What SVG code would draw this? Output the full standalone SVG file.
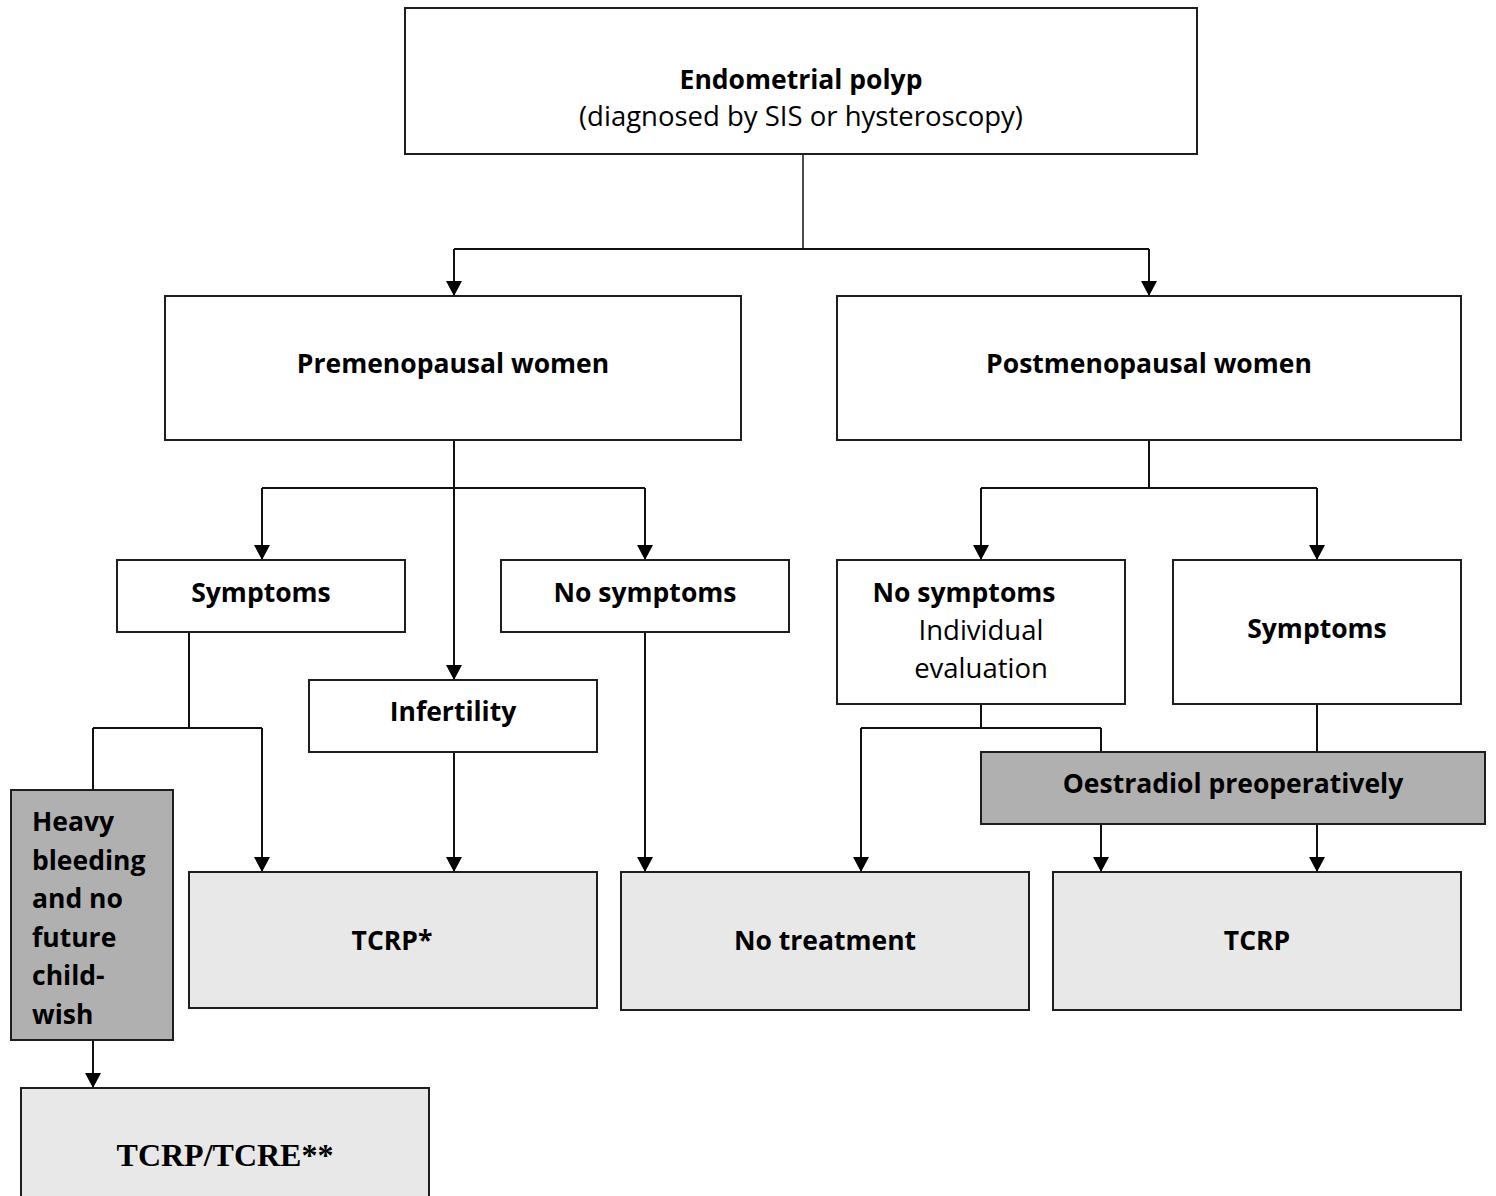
<svg xmlns="http://www.w3.org/2000/svg" width="1496" height="1196" viewBox="0 0 1496 1196">
<style>
.box{fill:#ffffff;stroke:#1e1e1e;stroke-width:2}
.light{fill:#e8e8e8;stroke:#1e1e1e;stroke-width:2}
.dark{fill:#b0b0b0;stroke:#1e1e1e;stroke-width:2}
.t{font-family:"Open Sans","Noto Sans",sans-serif;font-size:27.5px;fill:#000;text-anchor:middle}
.b{font-weight:bold;font-size:26.5px}
.l{text-anchor:start}
.serif{font-family:"Liberation Serif","Times New Roman",serif;font-size:32px;font-weight:bold;fill:#000;text-anchor:middle}
.c{fill:none;stroke:#111;stroke-width:2}
.a{marker-end:url(#arrow)}
</style>
<defs>
<marker id="arrow" markerUnits="userSpaceOnUse" markerWidth="15" markerHeight="16" refX="15" refY="8" orient="auto">
<path d="M0,0 L15,8 L0,16 z" fill="#000"/>
</marker>
</defs>
<rect width="1496" height="1196" fill="#ffffff"/>
<g id="connectors">
<path class="c" style="stroke-width:1.5" d="M803,154 V249"/>
<path class="c" d="M454,249 H1149"/>
<path class="c a" d="M454,249 V296"/>
<path class="c a" d="M1149,249 V296"/>
<path class="c" d="M454,440 V488 M262,488 H645"/>
<path class="c a" d="M262,488 V560"/>
<path class="c a" d="M645,488 V560"/>
<path class="c a" d="M454,488 V680"/>
<path class="c" d="M189,632 V728 M93,728 H262 M93,728 V790"/>
<path class="c a" d="M262,728 V872"/>
<path class="c a" d="M454,752 V872"/>
<path class="c a" d="M645,632 V872"/>
<path class="c a" d="M93,1040 V1088"/>
<path class="c" d="M1149,440 V488 M981,488 H1317"/>
<path class="c a" d="M981,488 V560"/>
<path class="c a" d="M1317,488 V560"/>
<path class="c" d="M981,704 V728 M861,728 H1101 M1101,728 V752"/>
<path class="c a" d="M861,728 V872"/>
<path class="c" d="M1317,704 V752"/>
<path class="c a" d="M1101,824 V872"/>
<path class="c a" d="M1317,824 V872"/>
</g>
<g id="n-polyp">
<rect class="box" x="405" y="8" width="792" height="146"/>
<text class="t b" x="801" y="89">Endometrial polyp</text>
<text class="t" x="801" y="126">(diagnosed by SIS or hysteroscopy)</text>
</g>
<g id="n-pre">
<rect class="box" x="165" y="296" width="576" height="144"/>
<text class="t b" x="453" y="373">Premenopausal women</text>
</g>
<g id="n-post">
<rect class="box" x="837" y="296" width="624" height="144"/>
<text class="t b" x="1149" y="373">Postmenopausal women</text>
</g>
<g id="n-pre-symptoms">
<rect class="box" x="117" y="560" width="288" height="72"/>
<text class="t b" x="261" y="602">Symptoms</text>
</g>
<g id="n-pre-nosymptoms">
<rect class="box" x="501" y="560" width="288" height="72"/>
<text class="t b" x="645" y="602">No symptoms</text>
</g>
<g id="n-infertility">
<rect class="box" x="309" y="680" width="288" height="72"/>
<text class="t b" x="453" y="721">Infertility</text>
</g>
<g id="n-post-nosymptoms">
<rect class="box" x="837" y="560" width="288" height="144"/>
<text class="t b" x="964" y="602">No symptoms</text>
<text class="t" x="981" y="640">Individual</text>
<text class="t" x="981" y="678">evaluation</text>
</g>
<g id="n-post-symptoms">
<rect class="box" x="1173" y="560" width="288" height="144"/>
<text class="t b" x="1317" y="638">Symptoms</text>
</g>
<g id="n-heavy">
<rect class="dark" x="11" y="790" width="162" height="250"/>
<text class="t b l" x="32" y="831">Heavy</text>
<text class="t b l" x="32" y="870">bleeding</text>
<text class="t b l" x="32" y="908">and no</text>
<text class="t b l" x="32" y="947">future</text>
<text class="t b l" x="32" y="985">child-</text>
<text class="t b l" x="32" y="1024">wish</text>
</g>
<g id="n-oestradiol">
<rect class="dark" x="981" y="752" width="504" height="72"/>
<text class="t b" x="1233" y="793">Oestradiol preoperatively</text>
</g>
<g id="n-tcrp-star">
<rect class="light" x="189" y="872" width="408" height="136"/>
<text class="t b" x="392" y="950">TCRP*</text>
</g>
<g id="n-notreatment">
<rect class="light" x="621" y="872" width="408" height="138"/>
<text class="t b" x="825" y="950">No treatment</text>
</g>
<g id="n-tcrp">
<rect class="light" x="1053" y="872" width="408" height="138"/>
<text class="t b" x="1257" y="950">TCRP</text>
</g>
<g id="n-tcre">
<rect class="light" x="21" y="1088" width="408" height="120"/>
<text class="serif" x="225" y="1166">TCRP/TCRE**</text>
</g>
</svg>
